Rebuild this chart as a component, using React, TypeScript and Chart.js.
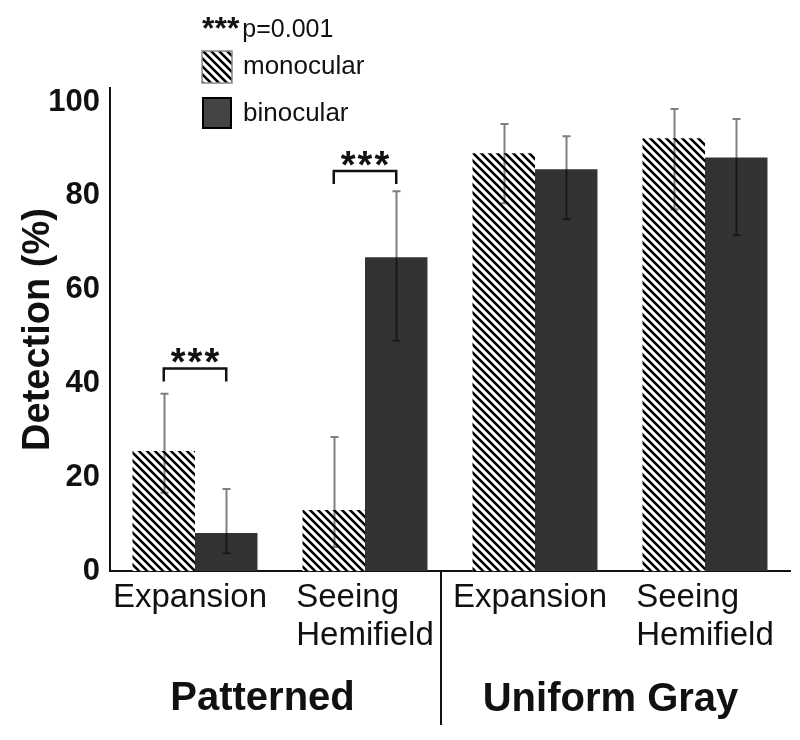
import React, { useEffect, useRef } from "react";
import { Chart, registerables } from "chart.js";
Chart.register(...registerables);

const categories = ["Expansion", "Seeing Hemifield", "Expansion", "Seeing Hemifield"];
const categoryLines = [["Expansion"], ["Seeing", "Hemifield"], ["Expansion"], ["Seeing", "Hemifield"]];
const groupTitles = ["Patterned", "Uniform Gray"];
const seriesNames = ["monocular", "binocular"];
const monocular = [25.6, 13.0, 89.1, 92.3];
const binocular = [8.1, 66.9, 85.7, 88.2];
const monoErrLow = [16.7, 5.1, 78.4, 77.1];
const monoErrHigh = [37.8, 28.6, 95.3, 98.5];
const binoErrLow = [3.8, 49.1, 75.0, 71.6];
const binoErrHigh = [17.5, 81.0, 92.7, 96.4];
const yTicks = [0, 20, 40, 60, 80, 100];
const sigIndices = [0, 1];
const sigTop = [43.2, 85.3];
const sigLabel = "***";
const pLabel = "p=0.001";
const yTitle = "Detection (%)";

const FAMILY = "'Liberation Sans', Arial, Helvetica, sans-serif";
const TEXT = "#111";

function makeHatch(ctx: CanvasRenderingContext2D) {
  const c = document.createElement("canvas");
  c.width = 8;
  c.height = 8;
  const g = c.getContext("2d")!;
  g.fillStyle = "#fff";
  g.fillRect(0, 0, 8, 8);
  g.strokeStyle = "#000";
  g.lineWidth = 2.6;
  g.beginPath();
  for (const k of [-8, 0, 8]) {
    g.moveTo(k - 1, -1);
    g.lineTo(k + 9, 9);
  }
  g.stroke();
  return ctx.createPattern(c, "repeat")!;
}

export default function App() {
  const ref = useRef<HTMLCanvasElement>(null);

  useEffect(() => {
    const canvas = ref.current!;
    const ctx0 = canvas.getContext("2d")!;
    const hatch = makeHatch(ctx0);
    const errLow = [monoErrLow, binoErrLow];
    const errHigh = [monoErrHigh, binoErrHigh];

    const overlay = {
      id: "overlay",
      afterDatasetsDraw(chart: any) {
        const ctx = chart.ctx;
        const y = chart.scales.y;
        ctx.save();
        ctx.strokeStyle = "rgba(0,0,0,0.5)";
        ctx.lineWidth = 2;
        for (let d = 0; d < 2; d++) {
          const meta = chart.getDatasetMeta(d);
          meta.data.forEach((el: any, j: number) => {
            const x = Math.round(el.x) + 0.5;
            const yh = y.getPixelForValue(errHigh[d][j]);
            const yl = y.getPixelForValue(errLow[d][j]);
            ctx.beginPath();
            ctx.moveTo(x, yh);
            ctx.lineTo(x, yl);
            ctx.moveTo(x - 4, yh);
            ctx.lineTo(x + 4, yh);
            ctx.moveTo(x - 4, yl);
            ctx.lineTo(x + 4, yl);
            ctx.stroke();
          });
        }
        ctx.restore();
      },
      afterDraw(chart: any) {
        const ctx = chart.ctx;
        const xs = chart.scales.x;
        const y = chart.scales.y;
        const area = chart.chartArea;
        const m0 = chart.getDatasetMeta(0);
        const m1 = chart.getDatasetMeta(1);
        ctx.save();
        // significance brackets
        ctx.strokeStyle = "#111";
        ctx.lineWidth = 2.5;
        ctx.fillStyle = TEXT;
        ctx.textAlign = "center";
        ctx.textBaseline = "alphabetic";
        sigIndices.forEach((i, k) => {
          const x0 = m0.data[i].x;
          const x1 = m1.data[i].x;
          const yt = y.getPixelForValue(sigTop[k]);
          ctx.beginPath();
          ctx.moveTo(x0, yt + 13);
          ctx.lineTo(x0, yt);
          ctx.lineTo(x1, yt);
          ctx.lineTo(x1, yt + 13);
          ctx.stroke();
          ctx.font = `bold 38px ${FAMILY}`;
          (ctx as any).letterSpacing = "2px";
          ctx.fillText(sigLabel, (x0 + x1) / 2 + 1, yt - 15 + 38 * 0.58);
          (ctx as any).letterSpacing = "0px";
        });

        // category labels
        ctx.font = `33px ${FAMILY}`;
        ctx.fillStyle = TEXT;
        categoryLines.forEach((lines, i) => {
          const cx = xs.getPixelForValue(i);
          if (lines.length === 1) {
            ctx.textAlign = "center";
            ctx.fillText(lines[0], cx - 5, area.bottom + 36);
          } else {
            const w = Math.max(...lines.map((l) => ctx.measureText(l).width));
            ctx.textAlign = "left";
            const left = cx - w / 2;
            lines.forEach((l, li) => ctx.fillText(l, left, area.bottom + 36 + li * 38));
          }
        });

        // divider
        const divX = (xs.getPixelForValue(1) + xs.getPixelForValue(2)) / 2 - 9;
        ctx.strokeStyle = "#111";
        ctx.lineWidth = 2;
        ctx.beginPath();
        ctx.moveTo(divX, area.bottom);
        ctx.lineTo(divX, area.bottom + 154);
        ctx.stroke();

        // group titles
        ctx.font = `bold 40px ${FAMILY}`;
        ctx.textAlign = "center";
        ctx.fillText(groupTitles[0], (area.left + divX) / 2 - 13, area.bottom + 139);
        ctx.fillText(groupTitles[1], (divX + area.right) / 2 - 5, area.bottom + 140);

        // legend
        const lx = 202;
        ctx.textAlign = "left";
        ctx.font = `bold 32px ${FAMILY}`;
        ctx.fillText(sigLabel, lx, 20 + 32 * 0.58);
        const sw = ctx.measureText(sigLabel).width;
        ctx.font = `25px ${FAMILY}`;
        ctx.fillText(pLabel, lx + sw + 3, 37);

        ctx.fillStyle = hatch;
        ctx.fillRect(lx, 51, 30, 32);
        ctx.strokeStyle = "#888";
        ctx.lineWidth = 1.5;
        ctx.strokeRect(lx, 51, 30, 32);
        ctx.fillStyle = "#444";
        ctx.fillRect(lx, 97, 30, 32);
        ctx.strokeStyle = "#000";
        ctx.lineWidth = 2;
        ctx.strokeRect(lx + 1, 98, 28, 30);
        ctx.fillStyle = TEXT;
        ctx.font = `26px ${FAMILY}`;
        ctx.fillText(seriesNames[0], 243, 74);
        ctx.fillText(seriesNames[1], 243, 121);
        ctx.restore();
      },
    };

    const chart = new Chart(canvas, {
      type: "bar",
      data: {
        labels: categories,
        datasets: [
          { label: seriesNames[0], data: monocular, backgroundColor: hatch, borderWidth: 0 },
          { label: seriesNames[1], data: binocular, backgroundColor: "#333333", borderWidth: 0 },
        ],
      },
      options: {
        responsive: false,
        animation: false,
        events: [],
        layout: { padding: { top: 88, right: 10, bottom: 169, left: 0 } },
        datasets: { bar: { categoryPercentage: 0.735, barPercentage: 1 } },
        plugins: {
          legend: { display: false },
          tooltip: { enabled: false },
          title: { display: false },
        },
        scales: {
          x: {
            grid: { display: false, drawTicks: false },
            border: { display: true, color: "#111", width: 2 },
            ticks: { display: false },
            afterFit: (s: any) => {
              s.height = 0;
            },
          },
          y: {
            min: 0,
            max: 103,
            grid: { display: false, drawTicks: false },
            border: { display: true, color: "#111", width: 2 },
            ticks: {
              color: TEXT,
              padding: 10,
              font: { family: FAMILY, size: 31, weight: "bold" },
            },
            afterBuildTicks: (s: any) => {
              s.ticks = yTicks.map((v) => ({ value: v }));
            },
            afterFit: (s: any) => {
              s.width = 110;
            },
            title: {
              display: true,
              text: yTitle,
              color: TEXT,
              font: { family: FAMILY, size: 38, weight: "bold" },
              padding: { top: 16, bottom: 0 },
            },
          },
        },
      },
      plugins: [overlay],
    } as any);
    return () => chart.destroy();
  }, []);

  return (
    <div style={{ position: "absolute", left: 0, top: 0, width: 800, height: 740, background: "#fff" }}>
      <canvas ref={ref} width={800} height={740} style={{ display: "block" }} />
    </div>
  );
}
